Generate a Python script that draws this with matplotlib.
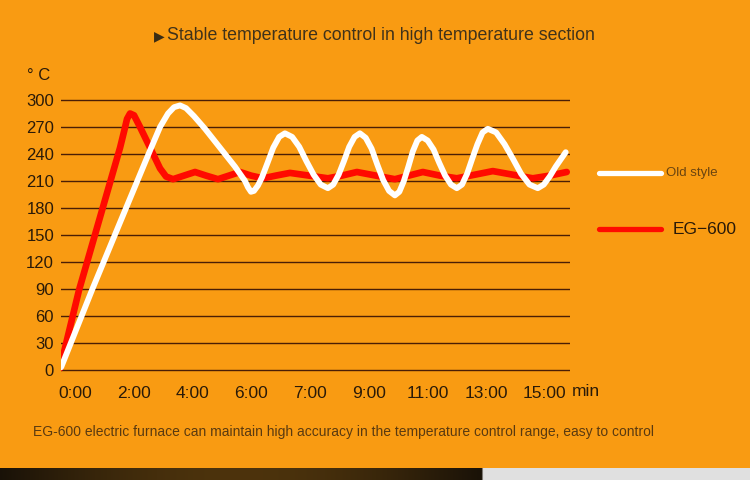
import matplotlib
matplotlib.use("Agg")
from matplotlib import pyplot as plt
from matplotlib.lines import Line2D
import numpy as np

plt.rcParams['font.family'] = ['Liberation Sans', 'DejaVu Sans']

# tick labels (evenly spaced on the axis)
tick_labels = ["0:00", "2:00", "4:00", "6:00", "7:00", "9:00", "11:00", "13:00", "15:00"]
y_ticks = list(range(0, 301, 30))

# Old style (white) - x in tick-slot units, temperature in C
old_x = [-0.238, 0.289, 0.766, 1.277, 1.447, 1.583, 1.685, 1.787, 1.889, 2.026,
         2.213, 2.468, 2.723, 2.894, 2.945, 2.996, 3.047,
         3.115, 3.183, 3.277, 3.375, 3.476, 3.574,
         3.697, 3.818, 3.940, 4.063, 4.184, 4.306,
         4.397, 4.489, 4.579, 4.669, 4.761, 4.851,
         4.950, 5.050, 5.149, 5.248, 5.348, 5.447,
         5.523, 5.600, 5.677, 5.753, 5.830, 5.906,
         6.005, 6.106, 6.204, 6.303, 6.403, 6.502,
         6.591, 6.677, 6.766, 6.854, 6.941, 7.030,
         7.171, 7.314, 7.455, 7.597, 7.740, 7.881,
         7.983, 8.085, 8.187, 8.272, 8.357]
old_y = [3, 89, 164, 244, 270, 285, 292, 294, 291, 282,
         268, 247, 226, 210, 203, 198, 199,
         205, 214, 230, 247, 259, 263,
         259, 248, 232, 217, 206, 202,
         206, 217, 232, 248, 259, 263,
         258, 246, 228, 211, 199, 194,
         198, 210, 226, 243, 255, 259,
         255, 245, 230, 216, 206, 202,
         206, 218, 235, 251, 264, 268,
         264, 251, 235, 218, 206, 202,
         206, 215, 226, 234, 242]

# EG-600 (red)
eg_x = [-0.255, 0.068, 0.426, 0.766, 0.834, 0.885, 0.936, 1.004, 1.106, 1.277,
        1.447, 1.549, 1.668, 1.855, 2.043, 2.230, 2.434, 2.621, 2.809, 2.996,
        3.200, 3.421, 3.660, 3.983, 4.306, 4.545, 4.800, 5.123, 5.447, 5.685,
        5.923, 6.213, 6.502, 6.809, 7.115, 7.455, 7.796, 8.085, 8.374]
eg_y = [2, 89, 170, 247, 265, 279, 285, 283, 270, 247,
        224, 215, 212, 216, 220, 216, 212, 216, 220, 216,
        213, 216, 219, 216, 213, 216, 220, 216, 212, 216,
        220, 216, 213, 217, 221, 217, 213, 216, 220]

bg = '#F99B12'
fig = plt.figure(figsize=(7.5, 4.8), dpi=100, facecolor=bg)
ax = fig.add_axes([61 / 750, 1 - 371.8 / 480, 509 / 750, 273.6 / 480])
ax.set_facecolor(bg)

for v in y_ticks:
    ax.axhline(v, color='#4a1e05', lw=1.0, zorder=1)

ax.plot(eg_x, eg_y, color='#ff0a00', lw=4.8, solid_capstyle='round',
        solid_joinstyle='round', zorder=3)
ax.plot(old_x, old_y, color='white', lw=4.2, solid_capstyle='round',
        solid_joinstyle='round', zorder=4)

ax.set_xlim(-0.24, 8.43)
ax.set_ylim(-2, 302)
ax.set_yticks(y_ticks)
ax.set_yticklabels([str(v) for v in y_ticks], fontsize=12, color='#2a1a08')
ax.set_xticks(range(len(tick_labels)))
ax.set_xticklabels(tick_labels, fontsize=12.5, color='#2a1a08')
ax.tick_params(length=0)
ax.tick_params(axis='y', pad=5)
ax.tick_params(axis='x', pad=10)
for s in ax.spines.values():
    s.set_visible(False)

fig.text(27 / 750, 1 - 75 / 480, "° C", fontsize=12, color='#2a1a08', va='center')
fig.text(572 / 750, 1 - 391 / 480, "min", fontsize=12.5, color='#2a1a08', va='center')

fig.text(159 / 750, 1 - 36 / 480, "▶", fontsize=10, color='#3a2c14',
         ha='center', va='center', family='DejaVu Sans')
fig.text(167 / 750, 1 - 36 / 480, "Stable temperature control in high temperature section",
         fontsize=12.8, color='#40321a', ha='left', va='center')
fig.text(33 / 750, 1 - 432 / 480,
         "EG-600 electric furnace can maintain high accuracy in the temperature control range, easy to control",
         fontsize=10, color='#5a3a10', va='center')

# legend
fig.add_artist(Line2D([599 / 750, 661 / 750], [1 - 173 / 480, 1 - 173 / 480],
                      color='white', lw=3.8, solid_capstyle='round'))
fig.text(666 / 750, 1 - 173 / 480, "Old style", fontsize=9.5, color='#6a4410', va='center')
fig.add_artist(Line2D([599 / 750, 661 / 750], [1 - 229 / 480, 1 - 229 / 480],
                      color='#ff0a00', lw=3.8, solid_capstyle='round'))
fig.text(673 / 750, 1 - 229 / 480, "EG\u2212600", fontsize=12.5, color='#2a1a08', va='center')

# bottom strip
strip = fig.add_axes([0, 0, 1, 12 / 480])
strip.axis('off')
grad = np.linspace(0, 1, 300)
cols = np.zeros((1, 300, 3))
dark = np.array([0.10, 0.07, 0.03])
mid = np.array([0.30, 0.20, 0.05])
for i, t in enumerate(grad):
    if t < 482 / 750:
        u = t / (482 / 750)
        cols[0, i] = dark + (mid - dark) * np.sin(np.pi * u)
    else:
        cols[0, i] = [0.88, 0.88, 0.88]
strip.imshow(cols, aspect='auto', extent=[0, 1, 0, 1])
strip.set_xlim(0, 1)

fig.savefig("out.png", dpi=100, facecolor=bg)
